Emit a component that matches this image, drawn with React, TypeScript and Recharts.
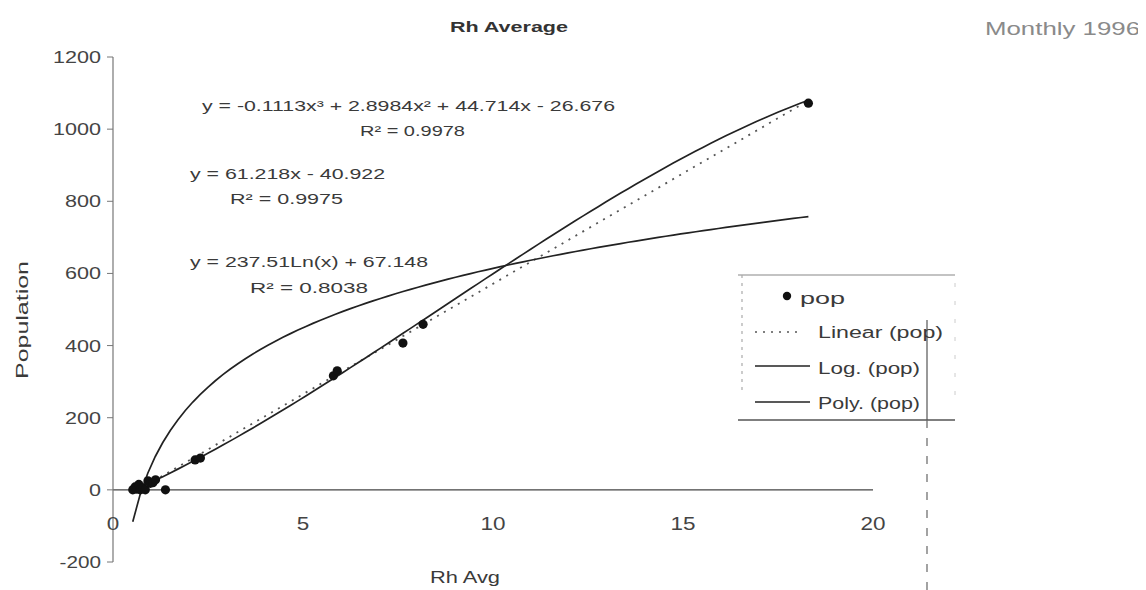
import React from 'react';
import { ComposedChart, Scatter, Line, XAxis, YAxis, ReferenceLine, Legend } from 'recharts';

const FONT = '"Liberation Sans", Arial, Helvetica, sans-serif';
const INK = '#222';
const TEXT = '#3a3a3a';

// Monthly 1996 observations: relative-humidity average vs. population
const rhAvg = [0.52, 0.58, 0.62, 0.68, 0.72, 0.78, 0.85, 0.92, 0.98, 1.05, 1.12, 1.38, 2.16, 2.3, 5.8, 5.9, 7.63, 8.16, 18.3];
const population = [0, 8, 2, 15, 0, 5, 0, 25, 18, 20, 28, 0, 83, 88, 316, 330, 407, 459, 1072];

const xTicks = [0, 5, 10, 15, 20];
const yTicks = [-200, 0, 200, 400, 600, 800, 1000, 1200];

// Fitted trendline coefficients
const linearFit = { slope: 61.218, intercept: -40.922, r2: 0.9975 };
const logFit = { coef: 237.51, intercept: 67.148, r2: 0.8038 };
const polyFit = { a3: -0.1113, a2: 2.8984, a1: 44.714, a0: -26.676, r2: 0.9978 };

const points = rhAvg.map((x, i) => ({ x, y: population[i] }));

// Trendlines span the observed Rh range
const xMin = Math.min(...rhAvg);
const xMax = Math.max(...rhAvg);
const STEPS = 90;
const trendXs = Array.from({ length: STEPS + 1 }, (_, i) => xMin + ((xMax - xMin) * i) / STEPS);
const linearLine = trendXs.map((x) => ({ x, y: linearFit.slope * x + linearFit.intercept }));
const logLine = trendXs.map((x) => ({ x, y: logFit.coef * Math.log(x) + logFit.intercept }));
const polyLine = trendXs.map((x) => ({
  x,
  y: polyFit.a3 * x ** 3 + polyFit.a2 * x ** 2 + polyFit.a1 * x + polyFit.a0,
}));

const eqPoly = `y = ${polyFit.a3}x³ + ${polyFit.a2}x² + ${polyFit.a1}x - ${Math.abs(polyFit.a0)}`;
const eqLinear = `y = ${linearFit.slope}x - ${Math.abs(linearFit.intercept)}`;
const eqLog = `y = ${logFit.coef}Ln(x) + ${logFit.intercept}`;

type STextProps = {
  x: number;
  y: number;
  w: number;
  size: number;
  anchor?: 'start' | 'middle' | 'end';
  weight?: string | number;
  fill?: string;
  children: React.ReactNode;
  transform?: string;
};

// Wide-set text: glyphs stretched to a given run length
const SText = ({ x, y, w, size, anchor = 'start', weight = 'normal', fill = TEXT, children, transform }: STextProps) => (
  <text
    x={x}
    y={y}
    dy="0.35em"
    textAnchor={anchor}
    fontFamily={FONT}
    fontSize={size}
    fontWeight={weight}
    fill={fill}
    textLength={w}
    lengthAdjust="spacingAndGlyphs"
    transform={transform}
  >
    {children}
  </text>
);

const labelWidth = (s: string, digit: number) =>
  s.split('').reduce((acc, c) => acc + (c === '-' ? digit * 0.45 : digit), 0);

const YTick = (props: any) => {
  const { x, y, payload } = props;
  const s = String(payload.value);
  return (
    <SText x={x - 4} y={y} w={labelWidth(s, 12)} size={17} anchor="end" fill="#444">
      {s}
    </SText>
  );
};

const XTick = (props: any) => {
  const { x, y, payload } = props;
  const s = String(payload.value);
  return (
    <SText x={x} y={y - 38} w={labelWidth(s, 12.5)} size={18} anchor="middle" fill="#444">
      {s}
    </SText>
  );
};

const PopDot = (props: any) => {
  const { cx, cy } = props;
  if (cx == null || cy == null) return null;
  return <circle cx={cx} cy={cy} r={4.6} fill="#111" />;
};

// Boxed legend with its frame lines
const LegendBox = () => (
  <svg width={240} height={330} style={{ overflow: 'visible', display: 'block' }}>
    <line x1={10} y1={12} x2={227} y2={12} stroke="#888" strokeWidth={1.2} />
    <line x1={10} y1={157} x2={227} y2={157} stroke="#555" strokeWidth={1.3} />
    <line x1={14} y1={12} x2={14} y2={130} stroke="#aaa" strokeWidth={1.2} strokeDasharray="3 5" />
    <line x1={199} y1={57} x2={199} y2={157} stroke="#555" strokeWidth={1.2} />
    <line x1={199} y1={157} x2={199} y2={327} stroke="#666" strokeWidth={1.2} strokeDasharray="8 10" />
    <line x1={227} y1={20} x2={227} y2={145} stroke="#ccc" strokeWidth={1} strokeDasharray="4 14" />
    <circle cx={59} cy={33} r={4.2} fill="#111" />
    <SText x={72} y={35} w={45} size={16}>pop</SText>
    <line x1={27} y1={69} x2={74} y2={69} stroke="#555" strokeWidth={1.6} strokeDasharray="2 6" />
    <SText x={90} y={69} w={125} size={16}>Linear (pop)</SText>
    <line x1={27} y1={103} x2={82} y2={103} stroke={INK} strokeWidth={1.6} />
    <SText x={90} y={105} w={102} size={16}>Log. (pop)</SText>
    <line x1={27} y1={139} x2={82} y2={139} stroke={INK} strokeWidth={1.6} />
    <SText x={90} y={140} w={102} size={16}>Poly. (pop)</SText>
  </svg>
);

export default function App() {
  return (
    <div style={{ position: 'relative', width: 1138, height: 582, background: '#fff' }}>
      <ComposedChart width={1138} height={582} margin={{ top: 49, right: 273, bottom: 0, left: 45 }}>
        <XAxis
          type="number"
          dataKey="x"
          domain={[0, 20]}
          ticks={xTicks}
          axisLine={false}
          tickLine={false}
          tickSize={0}
          tickMargin={0}
          height={28}
          tick={<XTick />}
          allowDataOverflow
        />
        <YAxis
          type="number"
          dataKey="y"
          domain={[-200, 1200]}
          ticks={yTicks}
          width={60}
          axisLine={{ stroke: '#777', strokeWidth: 1.2 }}
          tickLine={{ stroke: '#777' }}
          tickSize={6}
          tick={<YTick />}
          allowDataOverflow
        />
        <ReferenceLine y={0} stroke="#444" strokeWidth={1.3} />
        <Line
          data={linearLine}
          dataKey="y"
          stroke="#555"
          strokeWidth={1.8}
          strokeDasharray="2 6"
          dot={false}
          activeDot={false}
          isAnimationActive={false}
          name="Linear (pop)"
        />
        <Line
          data={logLine}
          dataKey="y"
          stroke={INK}
          strokeWidth={1.7}
          dot={false}
          activeDot={false}
          isAnimationActive={false}
          name="Log. (pop)"
        />
        <Line
          data={polyLine}
          dataKey="y"
          stroke={INK}
          strokeWidth={1.7}
          dot={false}
          activeDot={false}
          isAnimationActive={false}
          name="Poly. (pop)"
        />
        <Scatter data={points} dataKey="y" fill="#111" shape={<PopDot />} isAnimationActive={false} name="pop" />
        <Legend
          layout="vertical"
          align="center"
          verticalAlign="middle"
          content={() => <LegendBox />}
          wrapperStyle={{ left: 720, top: 255, width: 240, height: 330 }}
        />
      </ComposedChart>

      <svg
        width={1138}
        height={582}
        style={{ position: 'absolute', left: 0, top: 0, pointerEvents: 'none' }}
      >
        <SText x={442} y={19} w={118} size={14} weight="bold" fill="#333">Rh Average</SText>
        <SText x={977} y={20} w={155} size={19} fill="#8a8a8a">Monthly 1996</SText>

        <SText x={194} y={98} w={413} size={15}>{eqPoly}</SText>
        <SText x={352} y={123} w={105} size={15}>{`R² = ${polyFit.r2}`}</SText>
        <SText x={182} y={166} w={195} size={15}>{eqLinear}</SText>
        <SText x={222} y={191} w={113} size={15}>{`R² = ${linearFit.r2}`}</SText>
        <SText x={182} y={254} w={238} size={15}>{eqLog}</SText>
        <SText x={242} y={280} w={118} size={15}>{`R² = ${logFit.r2}`}</SText>

        <SText x={422} y={569} w={70} size={16}>Rh Avg</SText>
        <SText x={14} y={312} w={118} size={16} anchor="middle" transform="rotate(-90 14 312)">
          Population
        </SText>
      </svg>
    </div>
  );
}
